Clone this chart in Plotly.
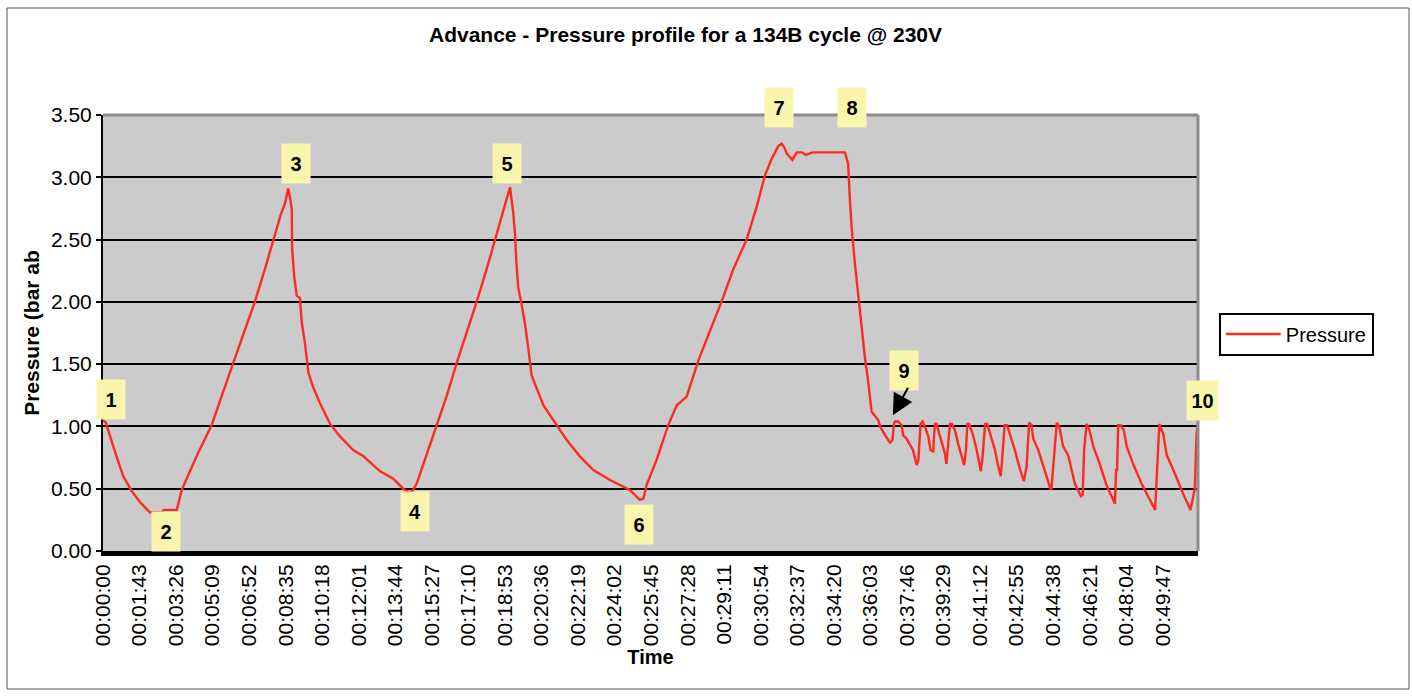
import plotly.graph_objects as go

# ---------------- data ----------------
time_s = [0, 8, 29, 57, 81, 105, 132, 166, 172, 208, 222, 262, 306, 337, 367, 398, 428, 455, 480, 501,
          513, 522, 527, 532, 533, 539, 546, 555, 560, 569, 579, 593, 611, 640, 668, 705, 734, 781, 818, 846,
          865, 874, 884, 907, 940, 968, 997, 1025, 1053, 1081, 1105, 1128, 1142, 1147, 1156, 1161, 1165, 1170, 1179, 1189,
          1198, 1208, 1241, 1278, 1307, 1344, 1382, 1429, 1466, 1485, 1513, 1523, 1532, 1560, 1593, 1617, 1645, 1678, 1711, 1743,
          1776, 1814, 1842, 1866, 1885, 1903, 1913, 1920, 1927, 1943, 1955, 1970, 1980, 1992, 2000, 2091, 2100, 2105, 2110, 2119,
          2128, 2138, 2147, 2157, 2166, 2185, 2190, 2204, 2218, 2225, 2229, 2232, 2241, 2251, 2255, 2265, 2274, 2283, 2293, 2298,
          2304, 2310, 2316, 2326, 2332, 2340, 2342, 2345, 2349, 2357, 2363, 2373, 2377, 2382, 2387, 2392, 2401, 2410, 2420, 2427,
          2432, 2436, 2441, 2451, 2460, 2469, 2474, 2479, 2486, 2492, 2501, 2514, 2523, 2530, 2534, 2541, 2548, 2558, 2570, 2584,
          2595, 2603, 2608, 2610, 2617, 2622, 2636, 2650, 2664, 2671, 2673, 2686, 2688, 2695, 2706, 2720, 2739, 2756, 2761, 2765,
          2772, 2779, 2791, 2809, 2828, 2852, 2855, 2858, 2861, 2868, 2877, 2885, 2903, 2927, 2950, 2965, 2969, 2974, 2977, 2988,
          2998, 3021, 3044, 3065, 3072, 3077, 3082, 3086]
pressure_bar = [1.05, 1.03, 0.84, 0.60, 0.48, 0.39, 0.31, 0.31, 0.33, 0.33, 0.49, 0.75, 1.01, 1.27, 1.51, 1.76, 2.00, 2.25, 2.50, 2.70,
                2.79, 2.91, 2.84, 2.74, 2.43, 2.20, 2.05, 2.03, 1.84, 1.67, 1.43, 1.31, 1.19, 1.02, 0.92, 0.81, 0.76, 0.64, 0.58, 0.50,
                0.47, 0.49, 0.54, 0.73, 1.01, 1.24, 1.51, 1.75, 2.00, 2.26, 2.50, 2.74, 2.87, 2.92, 2.72, 2.55, 2.32, 2.12, 1.99, 1.83,
                1.64, 1.41, 1.17, 1.01, 0.89, 0.76, 0.65, 0.57, 0.52, 0.49, 0.41, 0.42, 0.53, 0.73, 1.01, 1.17, 1.24, 1.53, 1.77, 2.00,
                2.26, 2.50, 2.76, 3.02, 3.15, 3.25, 3.27, 3.24, 3.19, 3.14, 3.20, 3.20, 3.18, 3.19, 3.20, 3.20, 3.11, 2.82, 2.59, 2.31,
                2.07, 1.75, 1.56, 1.35, 1.12, 1.05, 1.00, 0.93, 0.87, 0.89, 1.02, 1.04, 1.04, 1.01, 0.93, 0.90, 0.86, 0.81, 0.69, 0.73,
                1.02, 1.04, 1.00, 0.92, 0.81, 0.80, 0.92, 1.02, 1.02, 0.94, 0.89, 0.78, 0.70, 0.84, 1.02, 1.02, 0.97, 0.86, 0.76, 0.69,
                0.81, 1.02, 1.02, 0.94, 0.84, 0.70, 0.64, 0.76, 1.02, 1.02, 0.94, 0.81, 0.68, 0.60, 0.73, 1.01, 1.01, 0.92, 0.81, 0.66,
                0.56, 0.68, 1.02, 1.03, 1.01, 0.90, 0.81, 0.68, 0.54, 0.49, 0.50, 1.02, 1.03, 1.00, 0.84, 0.77, 0.54, 0.44, 0.45, 0.81,
                1.02, 0.98, 0.84, 0.70, 0.53, 0.38, 0.65, 0.65, 1.01, 1.01, 0.97, 0.84, 0.70, 0.54, 0.41, 0.33, 0.55, 0.95, 1.02, 0.94,
                0.77, 0.62, 0.46, 0.33, 0.44, 0.50, 0.94, 1.03]

x_tick_labels = ["00:00:00", "00:01:43", "00:03:26", "00:05:09", "00:06:52", "00:08:35", "00:10:18", "00:12:01",
                 "00:13:44", "00:15:27", "00:17:10", "00:18:53", "00:20:36", "00:22:19", "00:24:02", "00:25:45",
                 "00:27:28", "00:29:11", "00:30:54", "00:32:37", "00:34:20", "00:36:03", "00:37:46", "00:39:29",
                 "00:41:12", "00:42:55", "00:44:38", "00:46:21", "00:48:04", "00:49:47"]
y_tick_values = [0.0, 0.5, 1.0, 1.5, 2.0, 2.5, 3.0, 3.5]

point_labels = ["1", "2", "3", "4", "5", "6", "7", "8", "9", "10"]
label_time_s = [23, 178, 544, 879, 1138, 1510, 1905, 2111, 2257, 3100]
label_pressure = [1.22, 0.16, 3.11, 0.32, 3.11, 0.21, 3.56, 3.56, 1.45, 1.21]

arrow_tip_time_s = 2226
arrow_tip_pressure = 1.09

title_text = "Advance - Pressure profile for a 134B cycle @ 230V"
x_title = "Time"
y_title = "Pressure (bar ab"
series_name = "Pressure"

X_RANGE = [0, 3086]
Y_RANGE = [0, 3.5]


def to_seconds(label):
    h, m, s = label.split(":")
    return int(h) * 3600 + int(m) * 60 + int(s)


tick_secs = [to_seconds(t) for t in x_tick_labels]

FONT = "Arial, Liberation Sans, sans-serif"

fig = go.Figure()
fig.add_trace(go.Scatter(
    x=time_s, y=pressure_bar, mode="lines", name=series_name,
    line=dict(color="#ff2a1f", width=2.4), showlegend=True,
))

annotations = []
for txt, tx, py in zip(point_labels, label_time_s, label_pressure):
    # domain references so labels just outside the plot area are still drawn
    annotations.append(dict(
        x=(tx - X_RANGE[0]) / (X_RANGE[1] - X_RANGE[0]),
        y=(py - Y_RANGE[0]) / (Y_RANGE[1] - Y_RANGE[0]),
        xref="x domain", yref="y domain", text="<b>%s</b>" % txt, showarrow=False,
        font=dict(family=FONT, size=20, color="black"),
        bgcolor="#f9f5ad", width=29 if len(txt) > 1 else 26, height=37,
        xanchor="center", yanchor="middle",
    ))
annotations.append(dict(
    x=arrow_tip_time_s, y=arrow_tip_pressure, xref="x", yref="y", text="",
    showarrow=True, arrowhead=2, arrowsize=2.1, arrowwidth=2, arrowcolor="black",
    ax=16, ay=-29,
))

fig.update_layout(
    width=1412, height=699, autosize=False,
    paper_bgcolor="white", plot_bgcolor="#cbcbcb",
    margin=dict(l=103, r=214, t=115, b=148),
    font=dict(family=FONT, size=21, color="black"),
    title=dict(text="<b>%s</b>" % title_text, x=0.532, xref="paper", xanchor="center",
               y=1 - 35 / 699, yref="container", yanchor="middle",
               font=dict(family=FONT, size=21, color="black")),
    showlegend=True,
    legend=dict(x=1.019, y=0.547, xanchor="left", yanchor="top",
                bordercolor="black", borderwidth=2, bgcolor="white",
                font=dict(family=FONT, size=20, color="black"),
                itemwidth=55, tracegroupgap=0),
    annotations=annotations,
    xaxis=dict(
        range=X_RANGE, tickmode="array", tickvals=tick_secs, ticktext=x_tick_labels,
        tickangle=-90, tickfont=dict(family=FONT, size=21, color="black"),
        showgrid=False, zeroline=False,
        showline=True, linecolor="black", linewidth=5,
        ticks="", ticklen=0,
        title=dict(text="<b>%s</b>" % x_title, font=dict(family=FONT, size=20, color="black"), standoff=6),
    ),
    yaxis=dict(
        range=Y_RANGE, tickmode="array", tickvals=y_tick_values,
        tickformat=".2f", tickfont=dict(family=FONT, size=21, color="black"),
        showgrid=True, gridcolor="black", gridwidth=2, zeroline=False,
        showline=True, linecolor="black", linewidth=2,
        ticks="outside", ticklen=5, tickcolor="black", tickwidth=2,
        title=dict(text="<b>%s</b>" % y_title, font=dict(family=FONT, size=21, color="black"), standoff=6),
    ),
    shapes=[
        dict(type="line", xref="x domain", yref="y domain", x0=0, x1=1, y0=1, y1=1,
             line=dict(color="#8c8c8c", width=3), layer="above"),
        dict(type="line", xref="x domain", yref="y domain", x0=1, x1=1, y0=0, y1=1,
             line=dict(color="#8c8c8c", width=3), layer="above"),
        dict(type="rect", xref="paper", yref="paper",
             x0=-96 / 1095, x1=1306 / 1095, y0=-138 / 436, y1=543 / 436,
             line=dict(color="#555555", width=1), layer="below"),
    ],
)

fig.write_html("out.html", config={"displayModeBar": False},
               post_script="document.body.style.margin='0';document.body.style.overflow='hidden';")
